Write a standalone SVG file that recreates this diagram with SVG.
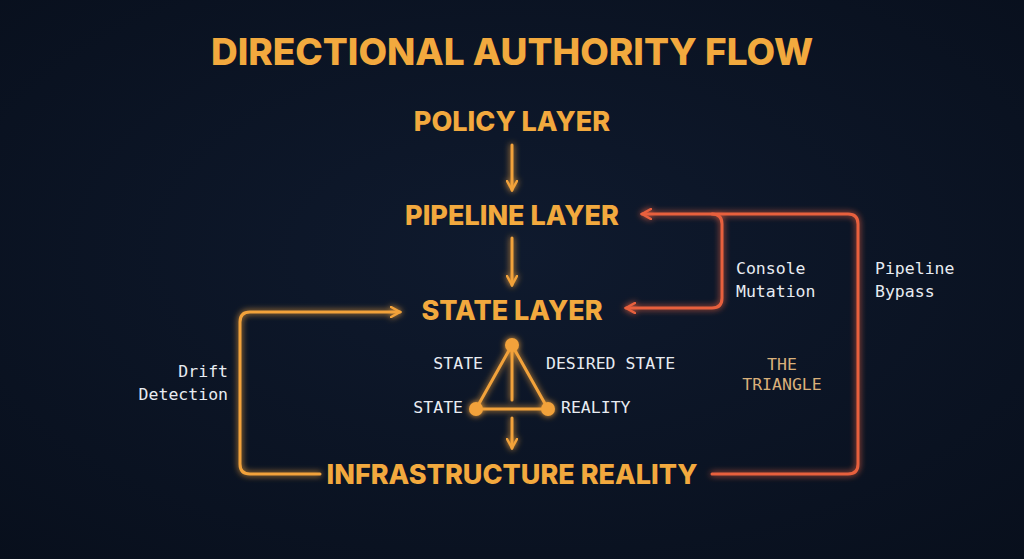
<svg xmlns="http://www.w3.org/2000/svg" width="1024" height="559" viewBox="0 0 1024 559">
<defs>
<radialGradient id="bg" cx="50%" cy="45%" r="75%"><stop offset="0" stop-color="#0f1a2e"/><stop offset="1" stop-color="#080f1c"/></radialGradient>
<filter id="glow" x="-20%" y="-20%" width="140%" height="140%"><feGaussianBlur stdDeviation="3" result="b"/><feMerge><feMergeNode in="b"/><feMergeNode in="SourceGraphic"/></feMerge></filter>
<marker id="ao" viewBox="0 0 12 12" refX="10" refY="6" markerWidth="12" markerHeight="12" markerUnits="userSpaceOnUse" orient="auto"><path d="M1,1 L10,6 L1,11" fill="none" stroke="#f2a23a" stroke-width="2.5" stroke-linecap="round"/></marker>
<marker id="ar" viewBox="0 0 12 12" refX="10" refY="6" markerWidth="12" markerHeight="12" markerUnits="userSpaceOnUse" orient="auto"><path d="M1,1 L10,6 L1,11" fill="none" stroke="#e8603e" stroke-width="2.5" stroke-linecap="round"/></marker>
</defs>
<style>
.h{font-family:Inter,"Liberation Sans",sans-serif;font-weight:800;fill:#f2a93e;text-anchor:middle}
.m{font-family:"DejaVu Sans Mono","Liberation Mono",monospace;font-size:16.5px;fill:#e8ecf2}
.o{fill:none;stroke:#f2a23a;stroke-width:3;stroke-linecap:round;stroke-linejoin:round}
.r{fill:none;stroke:#e8603e;stroke-width:3;stroke-linecap:round;stroke-linejoin:round}
</style>
<rect width="1024" height="559" fill="url(#bg)"/>
<text class="h" x="512" y="65" font-size="37">DIRECTIONAL AUTHORITY FLOW</text>
<g id="policy"><text class="h" x="512" y="131" font-size="27">POLICY LAYER</text></g>
<g id="pipeline"><text class="h" x="512" y="225" font-size="27">PIPELINE LAYER</text></g>
<g id="state"><text class="h" x="512" y="320" font-size="27">STATE LAYER</text></g>
<g id="infra"><text class="h" x="512" y="484" font-size="27">INFRASTRUCTURE REALITY</text></g>
<g id="triangle" filter="url(#glow)">
<path class="o" d="M512,345 L476,409 L548,409 Z M512,345 L512,400"/>
<circle cx="512" cy="345" r="7" fill="#f2a23a"/><circle cx="476" cy="409" r="7" fill="#f2a23a"/><circle cx="548" cy="409" r="7" fill="#f2a23a"/>
</g>
<g id="labels">
<text class="m" x="483" y="369" text-anchor="end">STATE</text>
<text class="m" x="546" y="369">DESIRED STATE</text>
<text class="m" x="463" y="413" text-anchor="end">STATE</text>
<text class="m" x="561" y="413">REALITY</text>
<text class="m" x="782" y="370" text-anchor="middle" style="fill:#d9b07a">THE</text>
<text class="m" x="782" y="390" text-anchor="middle" style="fill:#d9b07a">TRIANGLE</text>
<text class="m" x="228" y="377" text-anchor="end">Drift</text>
<text class="m" x="228" y="400" text-anchor="end">Detection</text>
<text class="m" x="736" y="274">Console</text>
<text class="m" x="736" y="297">Mutation</text>
<text class="m" x="875" y="274">Pipeline</text>
<text class="m" x="875" y="297">Bypass</text>
</g>
<g id="connectors" filter="url(#glow)">
<path class="o" d="M512,145 V190" marker-end="url(#ao)"/>
<path class="o" d="M512,238 V285" marker-end="url(#ao)"/>
<path class="o" d="M512,418 V448" marker-end="url(#ao)"/>
<path class="o" d="M320,474 H250 Q240,474 240,464 V322 Q240,312 250,312 H400" marker-end="url(#ao)"/>
<path class="r" d="M712,474 H848 Q858,474 858,464 V224 Q858,214 848,214 H642" marker-end="url(#ar)"/>
<path class="r" d="M712,214 Q722,214 722,224 V298 Q722,308 712,308 H626" marker-end="url(#ar)"/>
</g>
</svg>
